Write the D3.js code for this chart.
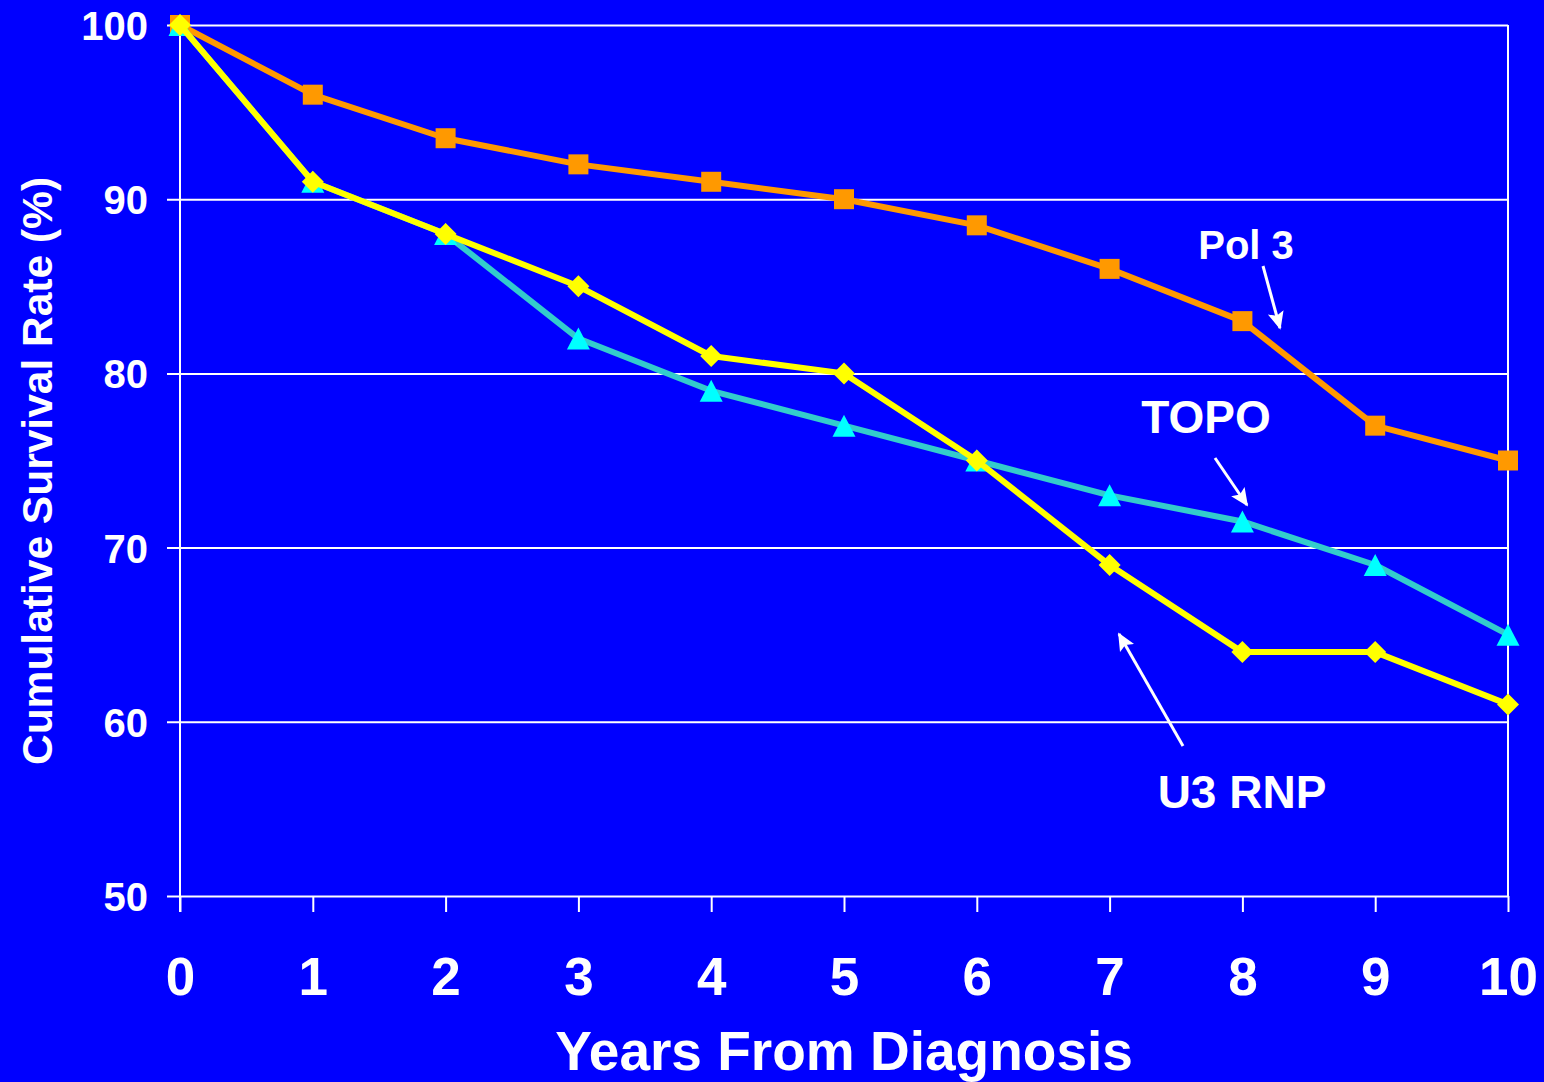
<!DOCTYPE html>
<html>
<head>
<meta charset="utf-8">
<script src="https://cdn.jsdelivr.net/npm/d3@7/dist/d3.min.js"></script>
<style>
  html, body { margin: 0; padding: 0; background: #0000FF; }
  svg { display: block; }
  text { font-family: "Liberation Sans", Arial, sans-serif; font-weight: bold; fill: #FFFFFF; }
</style>
</head>
<body>
<svg id="chart" width="1544" height="1082"></svg>
<script>
// Years since diagnosis
const years = [0, 1, 2, 3, 4, 5, 6, 7, 8, 9, 10];
// Cumulative survival (%) per autoantibody group
const pol3 = [100, 96, 93.5, 92, 91, 90, 88.5, 86, 83, 77, 75];
const topo = [100, 91, 88, 82, 79, 77, 75, 73, 71.5, 69, 65];
const u3rnp = [100, 91, 88, 85, 81, 80, 75, 69, 64, 64, 61];
const yTicks = [50, 60, 70, 80, 90, 100];

const svg = d3.select("#chart");
const W = 1544, H = 1082;
const plotLeft = 180, plotRight = 1508, plotTop = 25, plotBottom = 896;

svg.append("rect").attr("width", W).attr("height", H).attr("fill", "#0000FF");

const x = d3.scaleLinear().domain([0, 10]).range([plotLeft, plotRight]);
const y = d3.scaleLinear().domain([50, 100]).range([plotBottom, plotTop]);

// horizontal gridlines with outward ticks, via the y axis
const yAxis = svg.append("g")
  .attr("transform", `translate(${plotLeft},0)`)
  .call(d3.axisLeft(y).tickValues(yTicks).tickSize(13).tickPadding(19).tickFormat(d3.format("d")));
yAxis.select(".domain").remove();
yAxis.selectAll(".tick line")
  .attr("x1", -13).attr("x2", plotRight - plotLeft)
  .attr("stroke", "#FFFFFF").attr("stroke-width", 2);
yAxis.selectAll(".tick text")
  .attr("font-size", 40).attr("fill", "#FFFFFF").attr("dy", "0.36em");

// x axis with downward ticks
const xAxis = svg.append("g")
  .attr("transform", `translate(0,${plotBottom})`)
  .call(d3.axisBottom(x).tickValues(years).tickSize(16).tickPadding(45).tickFormat(d3.format("d")));
xAxis.select(".domain").remove();
xAxis.selectAll(".tick line").attr("stroke", "#FFFFFF").attr("stroke-width", 2);
xAxis.selectAll(".tick text")
  .attr("font-size", 53).attr("fill", "#FFFFFF").attr("dy", "0.71em");

// left axis line and right frame line
svg.append("line").attr("x1", plotLeft).attr("x2", plotLeft).attr("y1", plotTop).attr("y2", plotBottom + 16)
  .attr("stroke", "#FFFFFF").attr("stroke-width", 2);
svg.append("line").attr("x1", plotRight).attr("x2", plotRight).attr("y1", plotTop).attr("y2", plotBottom)
  .attr("stroke", "#FFFFFF").attr("stroke-width", 2);

// axis titles
svg.append("text")
  .attr("x", 844).attr("y", 1070)
  .attr("text-anchor", "middle").attr("font-size", 55)
  .text("Years From Diagnosis");
svg.append("text")
  .attr("transform", "translate(52,471) rotate(-90)")
  .attr("text-anchor", "middle").attr("font-size", 42.5)
  .text("Cumulative Survival Rate (%)");

const line = d3.line().x((d, i) => x(years[i])).y(d => y(d));

// marker shapes: square, upright triangle, square rotated 45°
const squareSym = { draw(ctx, s) { const r = 10; ctx.rect(-r, -r, 2 * r, 2 * r); } };
const triangleSym = { draw(ctx, s) { ctx.moveTo(0, -11); ctx.lineTo(11.5, 11); ctx.lineTo(-11.5, 11); ctx.closePath(); } };
const diamondSym = { draw(ctx, s) { const r = 11; ctx.moveTo(0, -r); ctx.lineTo(r, 0); ctx.lineTo(0, r); ctx.lineTo(-r, 0); ctx.closePath(); } };

const series = [
  { values: pol3, stroke: "#FF9900", fill: "#FF9900", symbol: squareSym },
  { values: topo, stroke: "#33CCCC", fill: "#00FFFF", symbol: triangleSym },
  { values: u3rnp, stroke: "#FFFF00", fill: "#FFFF00", symbol: diamondSym }
];

series.forEach(s => {
  const g = svg.append("g");
  g.append("path")
    .attr("d", line(s.values))
    .attr("fill", "none")
    .attr("stroke", s.stroke)
    .attr("stroke-width", 6)
    .attr("stroke-linejoin", "round");
  g.selectAll("path.pt")
    .data(s.values)
    .join("path")
    .attr("class", "pt")
    .attr("transform", (d, i) => `translate(${x(years[i])},${y(d)})`)
    .attr("d", d3.symbol().type(s.symbol))
    .attr("fill", s.fill);
});

// arrowhead marker
svg.append("defs").append("marker")
  .attr("id", "arrow")
  .attr("viewBox", "0 0 10 10")
  .attr("refX", 9).attr("refY", 5)
  .attr("markerWidth", 6).attr("markerHeight", 6)
  .attr("markerUnits", "strokeWidth")
  .attr("orient", "auto")
  .append("path")
  .attr("d", "M0,0.5 L10,5 L0,9.5 L2,5 Z")
  .attr("fill", "#FFFFFF");

const labels = [
  { text: "Pol 3", x: 1246, y: 259, size: 40, from: [1263, 266], to: [1280, 328] },
  { text: "TOPO", x: 1206, y: 433, size: 46, from: [1215, 458], to: [1247, 505] },
  { text: "U3 RNP", x: 1242, y: 808, size: 46, from: [1183, 746], to: [1119, 634] }
];

labels.forEach(l => {
  svg.append("text")
    .attr("x", l.x).attr("y", l.y)
    .attr("text-anchor", "middle").attr("font-size", l.size)
    .text(l.text);
  svg.append("line")
    .attr("x1", l.from[0]).attr("y1", l.from[1])
    .attr("x2", l.to[0]).attr("y2", l.to[1])
    .attr("stroke", "#FFFFFF").attr("stroke-width", 3)
    .attr("marker-end", "url(#arrow)");
});
</script>
</body>
</html>
